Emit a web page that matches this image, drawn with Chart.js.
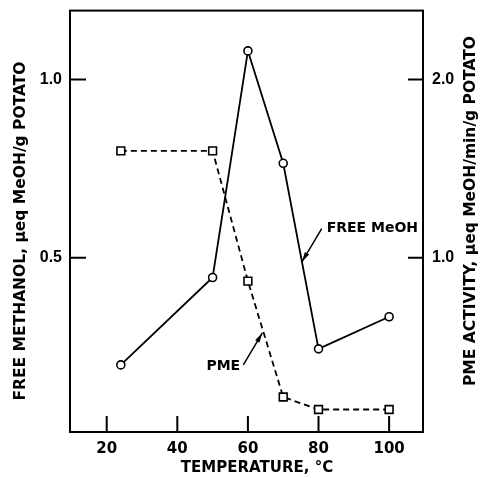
<!DOCTYPE html>
<html>
<head>
<meta charset="utf-8">
<script src="https://cdn.jsdelivr.net/npm/chart.js@4"></script>
<style>
  html, body { margin: 0; padding: 0; background: #fff; }
  #wrap { width: 485px; height: 478px; }
</style>
</head>
<body>
<div id="wrap"><canvas id="pmeChart"></canvas></div>
<script>
// values
const temperature = [24, 50, 60, 70, 80, 100];
const freeMeOH = [0.20, 0.445, 1.08, 0.765, 0.245, 0.335];
const pmeActivity = [1.60, 1.60, 0.87, 0.22, 0.15, 0.15];

const xTicks = [20, 40, 60, 80, 100];
const leftTicks = [0.5, 1.0];
const rightTicks = [1.0, 2.0];

const xTitle = 'TEMPERATURE, °C';
const leftTitle = 'FREE METHANOL, μeq MeOH/g POTATO';
const rightTitle = 'PME ACTIVITY, μeq MeOH/min/g POTATO';

// callouts in data units (left axis)
const callouts = [
  { text: 'FREE MeOH', at: [82.3, 0.582], align: 'left', tail: [80.9, 0.582], tip: [75.3, 0.489] },
  { text: 'PME', at: [57.8, 0.195], align: 'right', tail: [58.7, 0.200], tip: [64.1, 0.290] }
];

const FONT_FAMILY = '"DejaVu Sans", sans-serif';
const xTickFont = { family: FONT_FAMILY, size: 15, weight: 'bold' };
const yTickFont = { family: '"Liberation Sans", sans-serif', size: 16, weight: 'bold' };

const decorations = {
  id: 'decorations',
  afterDraw(chart) {
    const { ctx, chartArea: a, scales } = chart;
    ctx.save();
    ctx.strokeStyle = '#000';
    ctx.fillStyle = '#000';
    ctx.lineWidth = 2;
    ctx.strokeRect(a.left, a.top, a.right - a.left, a.bottom - a.top);

    // inward tick marks
    ctx.beginPath();
    leftTicks.forEach(v => {
      const py = scales.y.getPixelForValue(v);
      ctx.moveTo(a.left, py); ctx.lineTo(a.left + 16, py);
    });
    rightTicks.forEach(v => {
      const py = scales.y1.getPixelForValue(v);
      ctx.moveTo(a.right, py); ctx.lineTo(a.right - 15, py);
    });
    xTicks.forEach(v => {
      const px = scales.x.getPixelForValue(v);
      ctx.moveTo(px, a.bottom); ctx.lineTo(px, a.bottom - 16);
    });
    ctx.stroke();

    // callouts
    ctx.font = 'bold 14px ' + FONT_FAMILY;
    ctx.textBaseline = 'middle';
    ctx.lineWidth = 1.5;
    callouts.forEach(c => {
      const tx = scales.x.getPixelForValue(c.at[0]);
      const ty = scales.y.getPixelForValue(c.at[1]);
      ctx.textAlign = c.align;
      ctx.fillText(c.text, tx, ty);
      const x0 = scales.x.getPixelForValue(c.tail[0]);
      const y0 = scales.y.getPixelForValue(c.tail[1]);
      const x1 = scales.x.getPixelForValue(c.tip[0]);
      const y1 = scales.y.getPixelForValue(c.tip[1]);
      const ang = Math.atan2(y1 - y0, x1 - x0);
      ctx.beginPath(); ctx.moveTo(x0, y0); ctx.lineTo(x1, y1); ctx.stroke();
      ctx.beginPath();
      ctx.moveTo(x1, y1);
      ctx.lineTo(x1 - 10 * Math.cos(ang) + 2.5 * Math.sin(ang), y1 - 10 * Math.sin(ang) - 2.5 * Math.cos(ang));
      ctx.lineTo(x1 - 10 * Math.cos(ang) - 2.5 * Math.sin(ang), y1 - 10 * Math.sin(ang) + 2.5 * Math.cos(ang));
      ctx.closePath(); ctx.fill();
    });

    // axis titles
    ctx.font = 'bold 15px ' + FONT_FAMILY;
    ctx.textAlign = 'center';
    ctx.textBaseline = 'middle';
    ctx.fillText(xTitle, 257, 468);

    ctx.font = 'bold 15.5px ' + FONT_FAMILY;
    ctx.translate(21, 231);
    ctx.rotate(-Math.PI / 2);
    ctx.fillText(leftTitle, 0, 0);
    ctx.setTransform(1, 0, 0, 1, 0, 0);
    ctx.translate(471, 211);
    ctx.rotate(-Math.PI / 2);
    ctx.fillText(rightTitle, 0, 0);
    ctx.restore();
  }
};

new Chart(document.getElementById('pmeChart'), {
  type: 'line',
  data: {
    datasets: [
      {
        label: 'FREE MeOH',
        data: temperature.map((t, i) => ({ x: t, y: freeMeOH[i] })),
        yAxisID: 'y',
        borderColor: '#000',
        borderWidth: 1.8,
        tension: 0,
        pointStyle: 'circle',
        pointRadius: 4,
        pointBackgroundColor: '#fff',
        pointBorderColor: '#000',
        pointBorderWidth: 1.6
      },
      {
        label: 'PME',
        data: temperature.map((t, i) => ({ x: t, y: pmeActivity[i] })),
        yAxisID: 'y1',
        borderColor: '#000',
        borderWidth: 1.8,
        borderDash: [6, 4],
        tension: 0,
        pointStyle: 'rect',
        pointRadius: 5.5,
        pointBackgroundColor: '#fff',
        pointBorderColor: '#000',
        pointBorderWidth: 1.6
      }
    ]
  },
  options: {
    responsive: true,
    maintainAspectRatio: false,
    animation: false,
    layout: { padding: { top: 10 } },
    plugins: { legend: { display: false }, tooltip: { enabled: false } },
    scales: {
      x: {
        type: 'linear',
        min: 9.6, max: 109.6,
        grid: { display: false },
        border: { display: false },
        afterBuildTicks: s => { s.ticks = xTicks.map(v => ({ value: v })); },
        afterFit: s => { s.height = 46; },
        ticks: { font: xTickFont, color: '#000', padding: 0, maxRotation: 0, autoSkip: false }
      },
      y: {
        position: 'left',
        min: 0.012, max: 1.193,
        grid: { display: false },
        border: { display: false },
        afterBuildTicks: s => { s.ticks = leftTicks.map(v => ({ value: v })); },
        afterFit: s => { s.width = 70; },
        ticks: { font: yTickFont, color: '#000', padding: 0, callback: v => v.toFixed(1) }
      },
      y1: {
        position: 'right',
        min: 0.024, max: 2.386,
        grid: { display: false },
        border: { display: false },
        afterBuildTicks: s => { s.ticks = rightTicks.map(v => ({ value: v })); },
        afterFit: s => { s.width = 62; },
        ticks: { font: yTickFont, color: '#000', padding: 1, callback: v => v.toFixed(1) }
      }
    }
  },
  plugins: [decorations]
});
</script>
</body>
</html>
